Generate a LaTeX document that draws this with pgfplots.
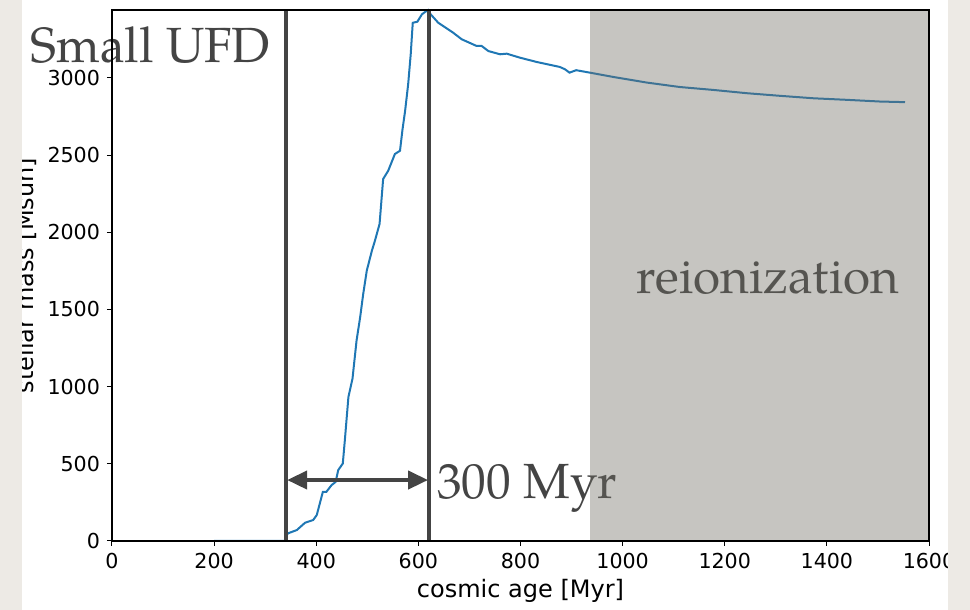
\documentclass[border=0pt]{standalone}
\usepackage{fontspec}
\setmainfont{DejaVu Sans}
\newfontfamily\seriffont{TeX Gyre Pagella}
\usepackage{pgfplots}
\pgfplotsset{compat=1.18}
\usetikzlibrary{arrows.meta}
\definecolor{mblue}{HTML}{1F77B4}
\definecolor{annot}{HTML}{444444}
\definecolor{beige}{HTML}{EDEAE5}
\definecolor{shade}{RGB}{112,110,100}
\begin{document}
\begin{tikzpicture}
\useasboundingbox (-56pt,-34.5pt) rectangle (429pt,270.5pt);
\begin{axis}[
  scale only axis, width=408.5pt, height=265.5pt,
  xmin=0, xmax=1600, ymin=0, ymax=3440,
  xtick={0,200,...,1600}, ytick={0,500,...,3000},
  xtick pos=bottom, ytick pos=left,
  tick align=outside, major tick length=2.5pt,
  tick style={black, line width=0.5pt},
  axis line style={black, line width=0.6pt},
  ticklabel style={font=\fontsize{10.3}{12}\selectfont},
  /pgf/number format/assume math mode=true,
  /pgf/number format/1000 sep={},
  xlabel={cosmic age [Myr]},
  label style={font=\fontsize{12}{14}\selectfont},
  xlabel style={at={(axis description cs:0.5,0)}, anchor=base, yshift=-28.5pt},
  clip=false,
  axis on top,
]
\addplot[mblue, line width=1pt] coordinates {
(200,0) (340,0) (342,39) (345,50) (362,71) (378,118) (394,136) (401,168) (413,319) (420,319) (430,362) (438,383) (443,459) (452,502) (456,653) (463,933) (471,1052) (479,1300) (486,1450) (492,1601) (499,1752) (509,1881) (515,1946) (524,2054) (531,2345) (541,2399) (554,2507) (564,2528) (569,2668) (574,2786) (580,2959) (585,3153) (589,3357) (598,3364) (607,3412) (613,3427) (619,3440) (623,3416) (639,3357) (668,3293) (685,3250) (714,3207) (724,3207) (737,3174) (760,3153) (773,3157) (799,3131) (832,3103) (877,3071) (887,3056) (896,3034) (909,3050) (936,3034) (982,3006) (1047,2970) (1112,2941) (1178,2922) (1243,2901) (1308,2884) (1374,2868) (1439,2858) (1504,2847) (1553,2843)
};
\addplot[annot, line width=2pt] coordinates {(341,0) (341,3440)};
\addplot[annot, line width=2pt] coordinates {(621,0) (621,3440)};
\addplot[annot, line width=2pt, {Triangle[length=10pt,width=9pt]}-{Triangle[length=10pt,width=9pt]}] coordinates {(343,395) (619,395)};
\node[anchor=base west, inner sep=0pt, text=annot, font=\seriffont\fontsize{24.7}{29}\selectfont] at (axis cs:-160,3097) {Small UFD};
\node[anchor=base west, inner sep=0pt, text=annot, font=\seriffont\fontsize{24.7}{29}\selectfont] at (axis cs:636,278) {300 Myr};
\node[anchor=base west, inner sep=0pt, text=annot, font=\seriffont\fontsize{24.7}{29}\selectfont] at (axis cs:1026,1603) {reionization};
\node[rotate=90, anchor=base, inner sep=0pt, font=\fontsize{12}{14}\selectfont] at (axis cs:-153,1720) {stellar mass [Msun]};
\addplot[draw=none, fill=shade, fill opacity=0.4] coordinates {(936,3440) (1600,3440)} \closedcycle;
\end{axis}
\fill[beige] (-56pt,-34.5pt) rectangle (-45pt,270.5pt);
\fill[beige] (418pt,-34.5pt) rectangle (429pt,270.5pt);
\end{tikzpicture}
\end{document}
